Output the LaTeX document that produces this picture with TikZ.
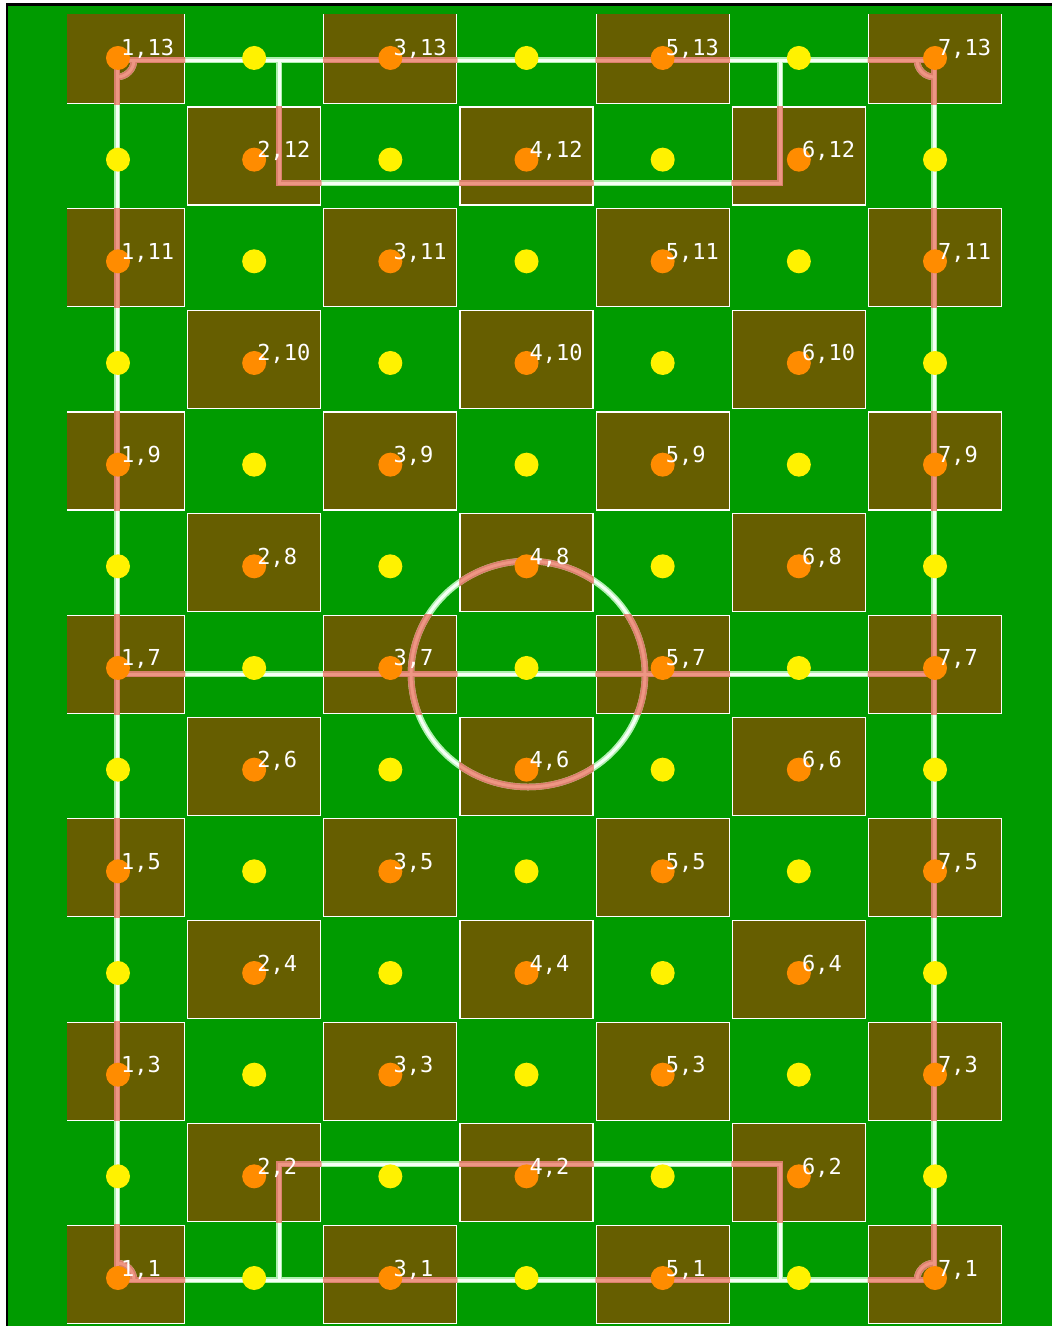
\documentclass[tikz,border=0pt]{standalone}
\usepackage{fontspec}
\newfontfamily\cellfont{DejaVu Sans Mono}

\definecolor{pitch}{RGB}{0,155,0}
\definecolor{turf}{RGB}{102,94,0}
\definecolor{chalk}{RGB}{245,255,245}
\definecolor{chalkedge}{RGB}{175,240,175}
\definecolor{salmon}{RGB}{238,150,132}
\definecolor{salmonedge}{RGB}{218,128,108}
\definecolor{spot}{RGB}{255,140,0}

% field markings, drawn twice (white on grass, salmon on the cells)
\newcommand{\fieldlines}[1]{%
  \draw[#1] (117,60) rectangle (934,1280);
  \draw[#1] (117,674) -- (934,674);
  \draw[#1] (279,60) -- (279,183) -- (780,183) -- (780,60);
  \draw[#1] (279,1280) -- (279,1164) -- (780,1164) -- (780,1280);
  \draw[#1] (528,674) ellipse [x radius=117,y radius=113];
  \draw[#1] (117,77) arc[start angle=90,end angle=0,radius=17];
  \draw[#1] (917,60) arc[start angle=180,end angle=90,radius=17];
  \draw[#1] (117,1263) arc[start angle=-90,end angle=0,radius=17];
  \draw[#1] (917,1280) arc[start angle=180,end angle=270,radius=17];
}

\begin{document}
\begin{tikzpicture}[x=1pt,y=-1pt,
    cell/.style={rectangle,draw=white,line width=1.3,fill=turf,minimum width=133,minimum height=98,inner sep=0},
    spotdot/.style={circle,fill=spot,minimum size=24,inner sep=0},
    freedot/.style={circle,fill=yellow,minimum size=24,inner sep=0},
    tag/.style={text=white,inner sep=0,anchor=base west,font=\cellfont\fontsize{22}{24}\selectfont}]

\useasboundingbox (0,0) rectangle (1052,1326);

% frame and grass
\fill[white] (0,0) rectangle (1052,1326);
\fill[black] (6,3) rectangle (1060,1340);
\fill[pitch] (8,6) rectangle (1060,1340);

% checkerboard cells
\begin{scope}
\clip (67,14) rectangle (1060,1340);
\foreach \i in {1,...,7}
  \foreach \j in {1,...,13} {
    \pgfmathsetmacro{\px}{118+(\i-1)*136.17}
    \pgfmathsetmacro{\py}{1278-(\j-1)*101.67-3.5}
    \pgfmathtruncatemacro{\odd}{mod(\i+\j,2)}
    \ifnum\odd=0
      \node[cell] (c-\i-\j) at (\px,\py) {};
    \fi
  }
\end{scope}

% lines on grass
\fieldlines{chalkedge,line width=6.5}
\fieldlines{chalk,line width=3}

% lines over the cells
\foreach \i in {1,...,7}
  \foreach \j in {1,...,13} {
    \pgfmathtruncatemacro{\odd}{mod(\i+\j,2)}
    \ifnum\odd=0
      \begin{scope}
      \clip (c-\i-\j.south west) rectangle (c-\i-\j.north east);
      \fieldlines{salmonedge,line width=6.5}
      \fieldlines{salmon,line width=3}
      \end{scope}
    \fi
  }

% points and their labels
\foreach \i in {1,...,7}
  \foreach \j in {1,...,13} {
    \pgfmathsetmacro{\px}{118+(\i-1)*136.17}
    \pgfmathsetmacro{\py}{1278-(\j-1)*101.67}
    \pgfmathtruncatemacro{\odd}{mod(\i+\j,2)}
    \ifnum\odd=0
      \node[spotdot] (p-\i-\j) at (\px,\py) {};
      \node[tag] (t-\i-\j) at ({\px+3},{\py-2}) {\i,\j};
    \else
      \node[freedot] (p-\i-\j) at (\px,\py) {};
    \fi
  }

\end{tikzpicture}
\end{document}
